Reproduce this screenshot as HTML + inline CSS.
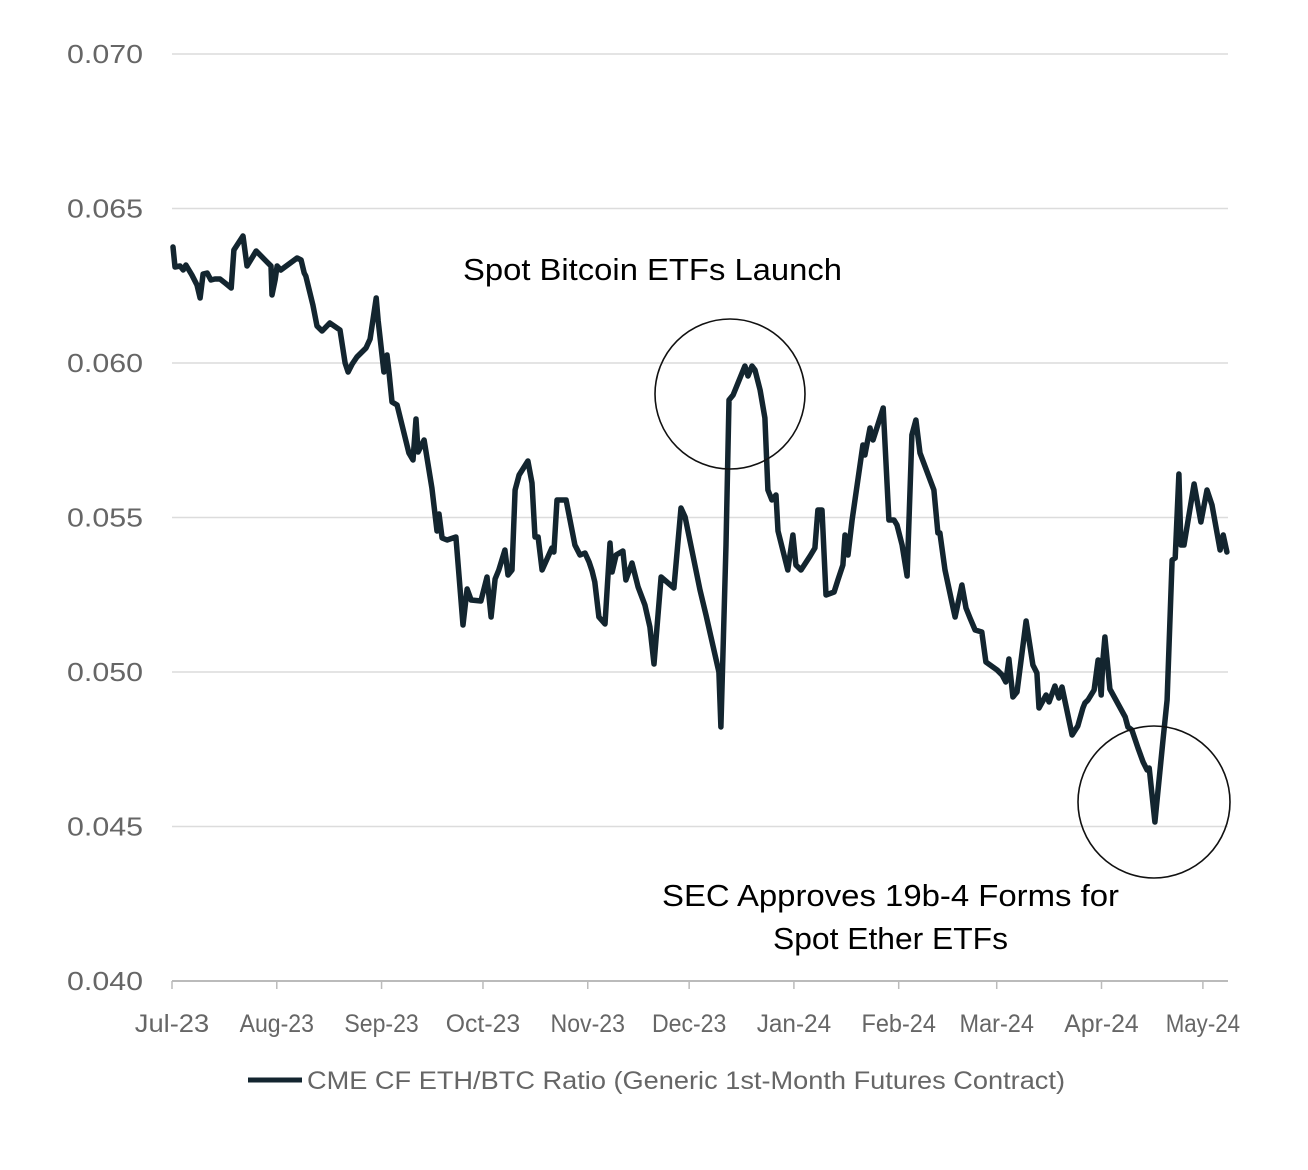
<!DOCTYPE html>
<html><head><meta charset="utf-8"><style>
html,body{margin:0;padding:0;background:#fff;}
svg{display:block;}
</style></head><body>
<svg id="chart" width="1308" height="1170" viewBox="0 0 1308 1170" xmlns="http://www.w3.org/2000/svg">
<g id="grid"></g>
<g id="yaxis"></g>
<g id="xaxis"></g>
<path id="line" fill="none" stroke="#13252f" stroke-width="5.5" stroke-linejoin="round" stroke-linecap="round"/>
<circle cx="730" cy="394" r="75" fill="none" stroke="#111" stroke-width="1.6"/>
<circle cx="1154" cy="802" r="76" fill="none" stroke="#111" stroke-width="1.6"/>
<text x="463" y="280" textLength="379" lengthAdjust="spacingAndGlyphs" font-family="Liberation Sans, sans-serif" font-size="31" fill="#000">Spot Bitcoin ETFs Launch</text>
<text x="662" y="906" textLength="457" lengthAdjust="spacingAndGlyphs" font-family="Liberation Sans, sans-serif" font-size="31" fill="#000">SEC Approves 19b-4 Forms for</text>
<text x="773" y="949" textLength="235" lengthAdjust="spacingAndGlyphs" font-family="Liberation Sans, sans-serif" font-size="31" fill="#000">Spot Ether ETFs</text>
<line x1="248" y1="1080" x2="302" y2="1080" stroke="#13252f" stroke-width="5"/>
<text x="307" y="1089" textLength="758" lengthAdjust="spacingAndGlyphs" font-family="Liberation Sans, sans-serif" font-size="25" fill="#666">CME CF ETH/BTC Ratio (Generic 1st-Month Futures Contract)</text>
</svg>
<script>
const days=[0.3,0.9,2.4,3.3,4.1,5.9,7.4,8.3,9.2,10.4,11.5,12.7,14.2,15.7,17.5,18.3,21.0,22.2,24.9,27.8,29.3,29.6,30.5,31.1,32.2,37.0,38.2,39.1,39.6,41.7,42.9,44.4,46.7,49.7,51.2,52.1,53.3,54.7,57.4,58.6,60.4,61.0,62.7,63.6,64.2,65.1,66.6,70.1,71.3,72.2,72.8,74.6,76.9,78.4,79.0,79.9,81.4,84.0,86.1,87.3,88.5,91.4,93.2,94.4,95.6,96.7,98.5,99.4,100.6,101.5,102.7,105.3,106.5,107.4,108.3,109.5,111.2,112.4,113.0,113.9,116.6,119.2,120.7,122.2,123.4,124.3,125.1,126.3,128.1,129.6,130.2,131.4,133.4,134.3,136.1,137.9,139.9,141.4,142.6,144.7,148.5,150.6,151.8,156.2,158.0,161.8,162.4,163.9,164.8,166.0,169.5,170.4,171.6,172.5,174.0,175.4,176.3,177.5,178.7,179.3,182.2,183.7,184.6,186.1,188.8,190.2,191.1,192.3,193.5,195.9,197.0,198.5,199.1,200.0,201.2,204.4,205.0,206.5,207.4,210.4,212.1,213.6,214.5,216.0,217.5,218.9,220.1,221.3,225.4,226.6,227.2,228.7,231.1,231.7,233.7,234.9,236.1,237.6,239.6,240.8,244.1,245.6,246.7,247.6,248.8,250.0,252.7,254.7,255.9,256.5,258.6,259.5,261.2,262.4,263.3,266.3,268.0,269.5,270.1,271.0,272.8,274.0,274.9,275.4,276.0,277.5,282.0,282.8,284.0,285.8,287.3,288.5,289.1,290.8,293.2,294.4,295.9,296.8,297.9,298.5,299.4,302.4,304.4,306.2,307.7,310.1,311.0,312.1];
const ratio=[0.063754,0.063107,0.063139,0.063010,0.063172,0.062848,0.062524,0.062104,0.062880,0.062913,0.062686,0.062718,0.062718,0.062589,0.062427,0.063657,0.064110,0.063139,0.063625,0.063301,0.063139,0.062201,0.062686,0.063139,0.063010,0.063398,0.063333,0.062913,0.062816,0.061877,0.061197,0.061036,0.061294,0.061068,0.060000,0.059709,0.059968,0.060194,0.060485,0.060777,0.062104,0.061359,0.059709,0.060259,0.059709,0.058738,0.058641,0.057087,0.056861,0.058188,0.057120,0.057508,0.055955,0.054563,0.055113,0.054337,0.054272,0.054369,0.051521,0.052686,0.052330,0.052298,0.053074,0.051780,0.053010,0.053301,0.053948,0.053139,0.053301,0.055890,0.056375,0.056828,0.056117,0.054369,0.054369,0.053301,0.053722,0.054013,0.053883,0.055566,0.055566,0.054110,0.053786,0.053851,0.053560,0.053269,0.052913,0.051780,0.051553,0.054175,0.053236,0.053786,0.053916,0.052977,0.053528,0.052751,0.052168,0.051456,0.050259,0.053074,0.052718,0.055307,0.055016,0.052654,0.051845,0.050000,0.048220,0.054110,0.058803,0.058964,0.059903,0.059579,0.059903,0.059773,0.059126,0.058220,0.055890,0.055566,0.055728,0.054563,0.053301,0.054434,0.053463,0.053301,0.053754,0.054013,0.055243,0.055243,0.052492,0.052589,0.052977,0.053463,0.054434,0.053786,0.054919,0.057346,0.057023,0.057896,0.057508,0.058544,0.054919,0.054919,0.054757,0.054110,0.053107,0.057670,0.058155,0.057087,0.055890,0.054498,0.054498,0.053301,0.052071,0.051780,0.052816,0.052071,0.051748,0.051359,0.051294,0.050324,0.050065,0.049903,0.049676,0.050421,0.049191,0.049353,0.051650,0.050227,0.049968,0.048835,0.049256,0.049029,0.049547,0.049159,0.049515,0.047961,0.048252,0.048835,0.048997,0.049094,0.049417,0.050388,0.049256,0.050388,0.051133,0.049450,0.048544,0.048220,0.048123,0.047540,0.047087,0.046828,0.046893,0.045146,0.047799,0.049094,0.053625,0.053689,0.056408,0.054110,0.054110,0.056084,0.054854,0.055890,0.055405,0.053948,0.054434,0.053883];
const yTicks=[0.040,0.045,0.050,0.055,0.060,0.065,0.070];
const yTickLabels=["0.040","0.045","0.050","0.055","0.060","0.065","0.070"];
const xTickDays=[0,31,62,92,123,153,184,215,244,275,305];
const xTickLabels=["Jul-23","Aug-23","Sep-23","Oct-23","Nov-23","Dec-23","Jan-24","Feb-24","Mar-24","Apr-24","May-24"];

const NS="http://www.w3.org/2000/svg";
const X0=172,X1=1228,Y0=981,Y1=54;
function xs(d){return 172+d*3.38;}
function ys(v){return Y0-(v-0.040)/(0.030)*(Y0-Y1);}
const grid=document.getElementById('grid'),ya=document.getElementById('yaxis'),xa=document.getElementById('xaxis');
yTicks.forEach((t,i)=>{
  const y=ys(t);
  const l=document.createElementNS(NS,'line');
  
  
  l.setAttribute('x1',X0);l.setAttribute('x2',X1);l.setAttribute('y1',y);l.setAttribute('y2',y);
  l.setAttribute('stroke',i===0?'#bbb':'#dcdcdc');l.setAttribute('stroke-width',i===0?2:1.5);
  grid.appendChild(l);
  const tx=document.createElementNS(NS,'text');
  
  
  tx.setAttribute('x',143);tx.setAttribute('y',y+9);tx.setAttribute('text-anchor','end');
  tx.setAttribute('textLength','76');tx.setAttribute('lengthAdjust','spacingAndGlyphs');
  tx.setAttribute('font-family','Liberation Sans, sans-serif');tx.setAttribute('font-size','26');tx.setAttribute('fill','#666');
  tx.textContent=yTickLabels[i];ya.appendChild(tx);
});
xTickDays.forEach((d,i)=>{
  const x=xs(d);
  const l=document.createElementNS(NS,'line');
  
  
  l.setAttribute('x1',x);l.setAttribute('x2',x);l.setAttribute('y1',Y0);l.setAttribute('y2',Y0+8);
  l.setAttribute('stroke','#bbb');l.setAttribute('stroke-width',1.5);xa.appendChild(l);
  const tx=document.createElementNS(NS,'text');
  
  
  tx.setAttribute('x',x);tx.setAttribute('y',1032);tx.setAttribute('text-anchor','middle');
  tx.setAttribute('font-family','Liberation Sans, sans-serif');tx.setAttribute('font-size','25');tx.setAttribute('fill','#666');
  tx.setAttribute('textLength',String(xTickLabels[i].length*12.4));tx.setAttribute('lengthAdjust','spacingAndGlyphs');
  tx.textContent=xTickLabels[i];xa.appendChild(tx);
});
let p='';
days.forEach((d,i)=>{p+=(i?'L':'M')+xs(d).toFixed(1)+','+ys(ratio[i]).toFixed(1);});
document.getElementById('line').setAttribute('d',p);
</script>
</body></html>
